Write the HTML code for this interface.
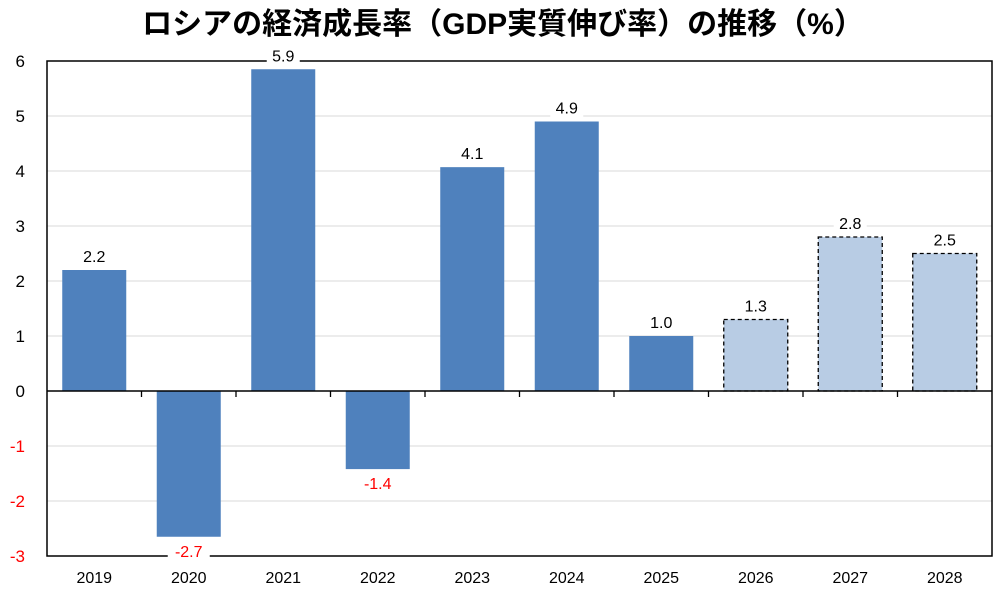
<!DOCTYPE html>
<html><head><meta charset="utf-8"><style>
body{margin:0;background:#fff;width:1000px;height:600px;overflow:hidden;font-family:"Liberation Sans","Noto Sans CJK JP",sans-serif}
</style></head><body>
<svg id="c" width="1000" height="600" xmlns="http://www.w3.org/2000/svg">
<text x="503" y="34" text-anchor="middle" font-size="30" font-weight="bold" font-family="Liberation Sans,Noto Sans CJK JP,sans-serif">ロシアの経済成長率（GDP実質伸び率）の推移（%）</text>
</svg>
<script>
const categories=["2019","2020","2021","2022","2023","2024","2025","2026","2027","2028"];
const values=[2.2,-2.65,5.85,-1.42,4.07,4.9,1.0,1.3,2.8,2.5];
const valueLabels=["2.2","-2.7","5.9","-1.4","4.1","4.9","1.0","1.3","2.8","2.5"];
const forecast=[false,false,false,false,false,false,false,true,true,true];
const yTicks=[-3,-2,-1,0,1,2,3,4,5,6];
const L=47,R=992,T=61,B=556,yMin=-3,yMax=6;
const svg=document.getElementById('c');const NS="http://www.w3.org/2000/svg";
function y(v){return T+(yMax-v)/(yMax-yMin)*(B-T);}
const bw=(R-L)/categories.length;
function x(i){return L+bw*(i+0.5);}
function mk(t,a,p){const e=document.createElementNS(NS,t);for(const k in a)e.setAttribute(k,a[k]);(p||svg).appendChild(e);return e;}
yTicks.forEach(v=>{
 if(v!==yMax&&v!==yMin&&v!==0){const g=mk('line',{x1:L,x2:R,y1:y(v),y2:y(v),stroke:'#d9d9d9','stroke-width':1});
 
 }
 const t=mk('text',{x:25,y:y(v)+6,'text-anchor':'end','font-size':17,fill:v<0?'#ff0000':'#000'});t.textContent=v;
 
 
});
const fr=mk('rect',{x:L,y:T,width:R-L,height:B-T,fill:'none',stroke:'#000','stroke-width':1.5});


categories.forEach((c,i)=>{
 const v=values[i],w=64,top=Math.min(y(v),y(0)),h=Math.abs(y(v)-y(0));
 const r=mk('rect',{x:x(i)-w/2,y:top,width:w,height:h,fill:forecast[i]?'#b8cce4':'#4f81bd'});
 if(forecast[i]){r.setAttribute('stroke','#000');r.setAttribute('stroke-width',1.3);r.setAttribute('stroke-dasharray','4,3');}
 
 
 const ly=v>=0?y(v)-8:y(v)+20;
 const lw=valueLabels[i].length*9+6;
 const bg=mk('rect',{x:x(i)-lw/2,y:ly-14,width:lw,height:17,fill:'#fff'});
 
 
 const t=mk('text',{x:x(i),y:ly,'text-anchor':'middle','font-size':16,fill:v<0?'#ff0000':'#000'});t.textContent=valueLabels[i];
 
 
 const xl=mk('text',{x:x(i),y:583,'text-anchor':'middle','font-size':16});xl.textContent=c;
 
 
 if(i>0){const tk=mk('line',{x1:L+bw*i,x2:L+bw*i,y1:y(0),y2:y(0)+6,stroke:'#000','stroke-width':1.3});
 
 }
});
const z=mk('line',{x1:L,x2:R,y1:y(0),y2:y(0),stroke:'#000','stroke-width':1.5});


</script>
</body></html>
